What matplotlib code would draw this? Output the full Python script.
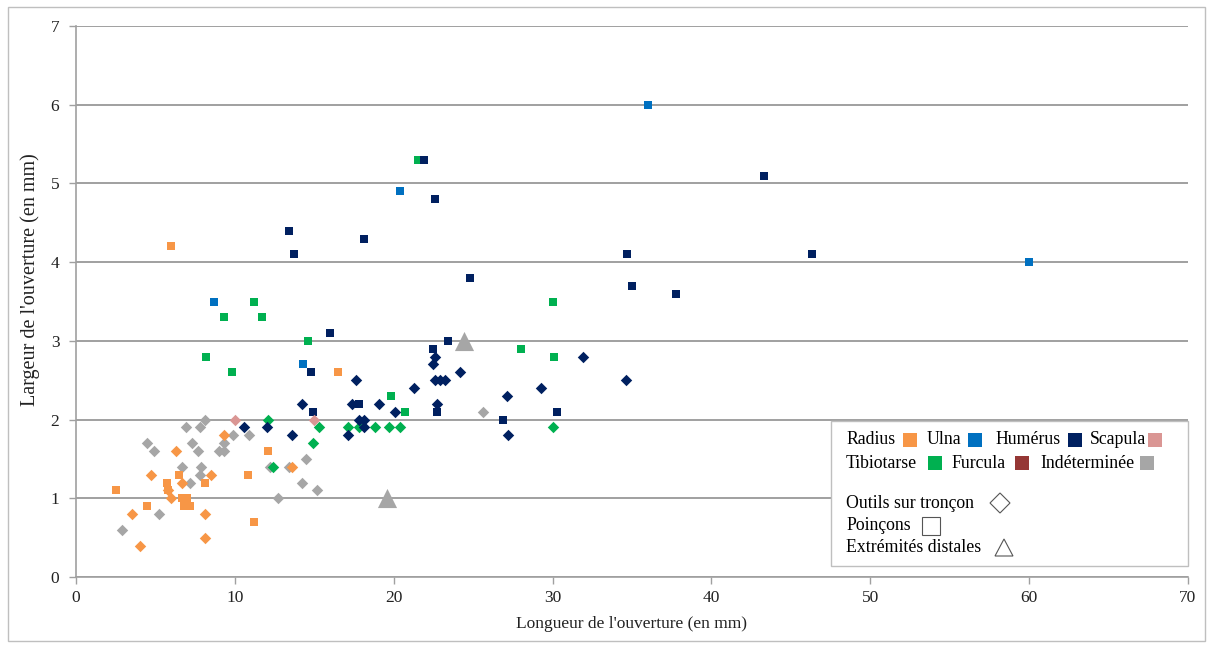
import matplotlib.pyplot as plt
from matplotlib.patches import Rectangle, Polygon

plt.rcParams['font.family'] = ['Liberation Serif', 'DejaVu Serif']

# Couleurs par os
c_radius = '#F79646'
c_ulna = '#0070C0'
c_humerus = '#002060'
c_scapula = '#DA9694'
c_tibio = '#00B050'
c_furcula = '#953735'
c_indet = '#A6A6A6'

# Radius
radius_outils_x = [4.7, 3.5, 4.0, 6.3, 6.0, 5.8, 6.7, 8.1, 8.1, 8.5, 9.3, 13.6]
radius_outils_y = [1.3, 0.8, 0.4, 1.6, 1.0, 1.1, 1.2, 0.8, 0.5, 1.3, 1.8, 1.4]
radius_poincons_x = [6.0, 2.5, 4.5, 5.7, 5.8, 6.5, 8.1, 6.7, 7.0, 6.8, 7.2, 10.8, 11.2, 12.1, 16.5]
radius_poincons_y = [4.2, 1.1, 0.9, 1.2, 1.1, 1.3, 1.2, 1.0, 1.0, 0.9, 0.9, 1.3, 0.7, 1.6, 2.6]

# Ulna
ulna_poincons_x = [36.0, 60.0, 20.4, 8.7, 14.3]
ulna_poincons_y = [6.0, 4.0, 4.9, 3.5, 2.7]

# Humérus
humerus_poincons_x = [21.9, 22.6, 18.1, 13.4, 13.7, 24.8, 16.0, 23.4, 14.8, 22.5, 14.9, 17.8,
                      22.7, 26.9, 30.3, 43.3, 34.7, 35.0, 37.8, 46.3]
humerus_poincons_y = [5.3, 4.8, 4.3, 4.4, 4.1, 3.8, 3.1, 3.0, 2.6, 2.9, 2.1, 2.2,
                      2.1, 2.0, 2.1, 5.1, 4.1, 3.7, 3.6, 4.1]
humerus_outils_x = [10.6, 12.0, 13.6, 14.2, 17.1, 17.4, 17.6, 19.1, 20.1, 17.8, 18.1, 18.1, 21.3,
                    22.5, 22.6, 22.6, 22.9, 23.2, 24.2, 22.7, 27.1, 27.2, 29.3, 31.9, 34.6]
humerus_outils_y = [1.9, 1.9, 1.8, 2.2, 1.8, 2.2, 2.5, 2.2, 2.1, 2.0, 2.0, 1.9, 2.4,
                    2.7, 2.8, 2.5, 2.5, 2.5, 2.6, 2.2, 2.3, 1.8, 2.4, 2.8, 2.5]

# Scapula
scapula_outils_x = [10.0, 15.0]
scapula_outils_y = [2.0, 2.0]

# Tibiotarse
tibio_poincons_x = [21.5, 11.2, 9.3, 11.7, 8.2, 9.8, 14.6, 30.0, 28.0, 30.1, 19.8, 20.7]
tibio_poincons_y = [5.3, 3.5, 3.3, 3.3, 2.8, 2.6, 3.0, 3.5, 2.9, 2.8, 2.3, 2.1]
tibio_outils_x = [12.1, 12.4, 15.3, 14.9, 17.1, 17.8, 18.8, 19.7, 20.4, 30.0]
tibio_outils_y = [2.0, 1.4, 1.9, 1.7, 1.9, 1.9, 1.9, 1.9, 1.9, 1.9]

# Indéterminée
indet_outils_x = [2.9, 5.2, 4.5, 4.9, 6.9, 6.7, 7.2, 7.3, 7.7, 7.8, 8.1, 7.9, 7.8, 9.0, 9.3, 9.3,
                  9.9, 10.9, 12.7, 13.4, 12.2, 14.5, 14.2, 15.2, 25.6]
indet_outils_y = [0.6, 0.8, 1.7, 1.6, 1.9, 1.4, 1.2, 1.7, 1.6, 1.9, 2.0, 1.4, 1.3, 1.6, 1.7, 1.6,
                  1.8, 1.8, 1.0, 1.4, 1.4, 1.5, 1.2, 1.1, 2.1]
indet_distales_x = [24.4, 19.6]
indet_distales_y = [3.0, 1.0]

fig = plt.figure(figsize=(12.12, 6.49), dpi=100)
ax = fig.add_axes([76 / 1212, 1 - 577 / 649, 1112 / 1212, 551 / 649])

s_sq = 36
s_di = 34
ax.scatter(indet_outils_x, indet_outils_y, marker='D', s=s_di, color=c_indet, linewidths=0, zorder=3)
ax.scatter(indet_distales_x, indet_distales_y, marker='^', s=190, color=c_indet, linewidths=0, zorder=3)
ax.scatter(radius_outils_x, radius_outils_y, marker='D', s=s_di, color=c_radius, linewidths=0, zorder=3)
ax.scatter(radius_poincons_x, radius_poincons_y, marker='s', s=s_sq, color=c_radius, linewidths=0, zorder=3)
ax.scatter(tibio_poincons_x, tibio_poincons_y, marker='s', s=s_sq, color=c_tibio, linewidths=0, zorder=3)
ax.scatter(tibio_outils_x, tibio_outils_y, marker='D', s=s_di, color=c_tibio, linewidths=0, zorder=3)
ax.scatter(ulna_poincons_x, ulna_poincons_y, marker='s', s=s_sq, color=c_ulna, linewidths=0, zorder=3)
ax.scatter(humerus_poincons_x, humerus_poincons_y, marker='s', s=s_sq, color=c_humerus, linewidths=0, zorder=3)
ax.scatter(humerus_outils_x, humerus_outils_y, marker='D', s=s_di, color=c_humerus, linewidths=0, zorder=3)
ax.scatter(scapula_outils_x, scapula_outils_y, marker='D', s=s_di, color=c_scapula, linewidths=0, zorder=3)

ax.set_xlim(0, 70)
ax.set_ylim(0, 7)
ax.set_xticks(range(0, 71, 10))
ax.set_yticks(range(0, 8))
ax.grid(axis='y', color='#A0A0A0', linewidth=1.4, zorder=0)
ax.set_axisbelow(True)
for side in ['top', 'right']:
    ax.spines[side].set_visible(False)
for side in ['left', 'bottom']:
    ax.spines[side].set_color('#A0A0A0')
    ax.spines[side].set_linewidth(1.2)
ax.tick_params(axis='both', colors='#A0A0A0', labelcolor='#222222', labelsize=12.5,
               length=5, width=1)
ax.tick_params(axis='x', pad=4)
ax.tick_params(axis='y', pad=7)

ax.set_xlabel("Longueur de l'ouverture (en mm)", fontsize=12.5, color='#222222')
ax.set_ylabel("Largeur de l'ouverture (en mm)", fontsize=14.5, color='#222222')
ax.xaxis.set_label_coords(0.5, -0.07)
ax.yaxis.set_label_coords(-0.032, 0.54)


# Légende dessinée à la main (coordonnées en pixels de la figure)
def fx(px):
    return px / 1212


def fy(py):
    return 1 - py / 649


fig.patches.append(Rectangle((fx(831), fy(566)), fx(1188) - fx(831), fy(421) - fy(566),
                             transform=fig.transFigure, facecolor='white',
                             edgecolor='#BFBFBF', linewidth=1, zorder=5))

fs = 12.8
ligne1 = [('Radius', 846, 903, c_radius), ('Ulna', 927, 968, c_ulna),
          ('Humérus', 995, 1068, c_humerus), ('Scapula', 1090, 1148, c_scapula)]
ligne2 = [('Tibiotarse', 846, 928, c_tibio), ('Furcula', 951, 1015, c_furcula),
          ('Indéterminée', 1040, 1140, c_indet)]
for items, py in [(ligne1, 440), (ligne2, 463)]:
    for nom, tx, sx, col in items:
        fig.text(fx(tx), fy(py), nom, fontsize=fs, va='center', ha='left', zorder=6)
        fig.patches.append(Rectangle((fx(sx), fy(py + 7)), fx(14), 14 / 649,
                                     transform=fig.transFigure, facecolor=col,
                                     edgecolor='none', zorder=6))

fig.text(fx(846), fy(503), 'Outils sur tronçon', fontsize=fs, va='center', ha='left', zorder=6)
fig.text(fx(846), fy(526), 'Poinçons', fontsize=fs, va='center', ha='left', zorder=6)
fig.text(fx(846), fy(548), 'Extrémités distales', fontsize=fs, va='center', ha='left', zorder=6)

fig.patches.append(Polygon([(fx(990), fy(503)), (fx(1000), fy(493)), (fx(1010), fy(503)),
                            (fx(1000), fy(513))], closed=True, transform=fig.transFigure,
                           facecolor='white', edgecolor='#555555', linewidth=0.8, zorder=6))
fig.patches.append(Rectangle((fx(922), fy(535)), fx(18), 18 / 649, transform=fig.transFigure,
                             facecolor='white', edgecolor='#555555', linewidth=0.8, zorder=6))
fig.patches.append(Polygon([(fx(995), fy(556)), (fx(1004), fy(539)), (fx(1013), fy(556))],
                           closed=True, transform=fig.transFigure, facecolor='white',
                           edgecolor='#555555', linewidth=0.8, zorder=6))

# Cadre extérieur
fig.patches.append(Rectangle((fx(8), fy(641)), fx(1197), 634 / 649, transform=fig.transFigure,
                             facecolor='none', edgecolor='#BFBFBF', linewidth=1, zorder=0))

fig.savefig('out.png', dpi=100)
